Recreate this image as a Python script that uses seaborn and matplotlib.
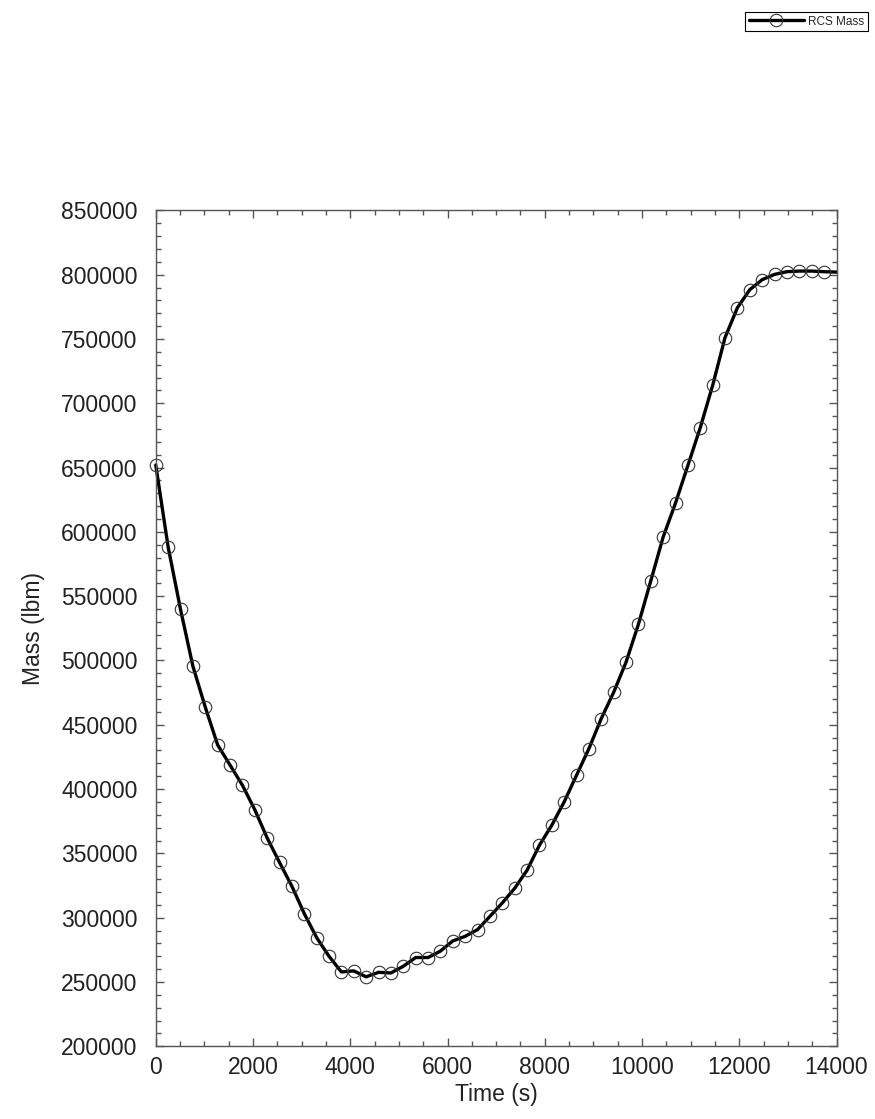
import matplotlib
matplotlib.use("Agg")
import matplotlib.pyplot as plt
from matplotlib.legend_handler import HandlerLine2D
from matplotlib.ticker import MultipleLocator
import numpy as np
import pandas as pd
import seaborn as sns

# RCS mass history (last point = line end, no marker)
time_s = [0, 255, 509, 764, 1018, 1273, 1527, 1782, 2036, 2291,
          2545, 2800, 3054, 3309, 3563, 3818, 4072, 4327, 4581, 4836,
          5090, 5345, 5599, 5854, 6108, 6363, 6617, 6872, 7126, 7381,
          7635, 7890, 8144, 8399, 8653, 8908, 9162, 9417, 9671, 9926,
          10180, 10435, 10689, 10944, 11198, 11453, 11707, 11962, 12216, 12471,
          12725, 12980, 13234, 13489, 13743, 14000]
mass_lbm = [652000, 588200, 539800, 495500, 463800, 434300, 418700, 403000, 384000, 362000,
            343000, 324400, 303200, 284500, 270000, 257800, 258600, 254000, 257500, 257000,
            262200, 269000, 269000, 274000, 281900, 285500, 290700, 301000, 311400, 322800,
            336800, 356300, 371800, 390000, 410700, 431400, 454800, 475200, 498600, 528100,
            561800, 596000, 622400, 651700, 681000, 713900, 751000, 774300, 788300, 796100,
            800200, 802300, 802800, 802800, 802300, 802000]
series_name = "RCS Mass"

df = pd.DataFrame({"Time (s)": time_s, "Mass (lbm)": mass_lbm})

sns.set_theme(style="ticks")
plt.rcParams["font.family"] = ["Liberation Sans", "DejaVu Sans"]
plt.rcParams.update({
    "axes.edgecolor": "#555555",
    "axes.linewidth": 1.0,
    "xtick.color": "#555555",
    "ytick.color": "#555555",
    "xtick.labelcolor": "#222222",
    "ytick.labelcolor": "#222222",
})


class EndMarker(HandlerLine2D):
    # put the legend marker at the right end of the handle line
    def get_xdata(self, legend, xdescent, ydescent, width, height, fontsize):
        xdata = [-xdescent, -xdescent + width]
        return xdata, [-xdescent + width - 3]


fig = plt.figure(figsize=(8.75, 11.19), dpi=100)
ax = fig.add_axes([0.178, 0.065, 0.778, 0.747])

sns.lineplot(data=df, x="Time (s)", y="Mass (lbm)", ax=ax, color="black",
             linewidth=2.4, marker="o", markersize=9, markerfacecolor="none",
             markeredgecolor="#333333", markeredgewidth=0.8,
             markevery=slice(0, len(time_s) - 1), sort=False, estimator=None)
line = ax.get_lines()[0]
line.set_clip_on(False)

ax.set_xlim(0, 14000)
ax.set_ylim(200000, 850000)
ax.xaxis.set_major_locator(MultipleLocator(2000))
ax.xaxis.set_minor_locator(MultipleLocator(500))
ax.yaxis.set_major_locator(MultipleLocator(50000))
ax.yaxis.set_minor_locator(MultipleLocator(10000))
ax.tick_params(which="both", direction="in", top=True, right=True, width=1.0)
ax.tick_params(which="major", length=6)
ax.tick_params(which="minor", length=3.5)
ax.tick_params(axis="y", which="major", labelsize=16.5, pad=13)
ax.tick_params(axis="x", which="major", labelsize=16.5, pad=7)
ax.set_xlabel("Time (s)", fontsize=16.5, labelpad=3, color="#222222")
ax.set_ylabel("Mass (lbm)", fontsize=16.5, labelpad=12, color="#222222")

leg = fig.legend([line], [series_name], loc="upper right",
                 bbox_to_anchor=(868 / 875, 1 - 12 / 1119), borderaxespad=0,
                 fontsize=8.5, handlelength=4.7, handletextpad=0.35,
                 borderpad=0.3, fancybox=False, framealpha=1,
                 edgecolor="black", handler_map={line: EndMarker()})
leg.get_frame().set_linewidth(0.8)

fig.savefig("out.png", dpi=100)
